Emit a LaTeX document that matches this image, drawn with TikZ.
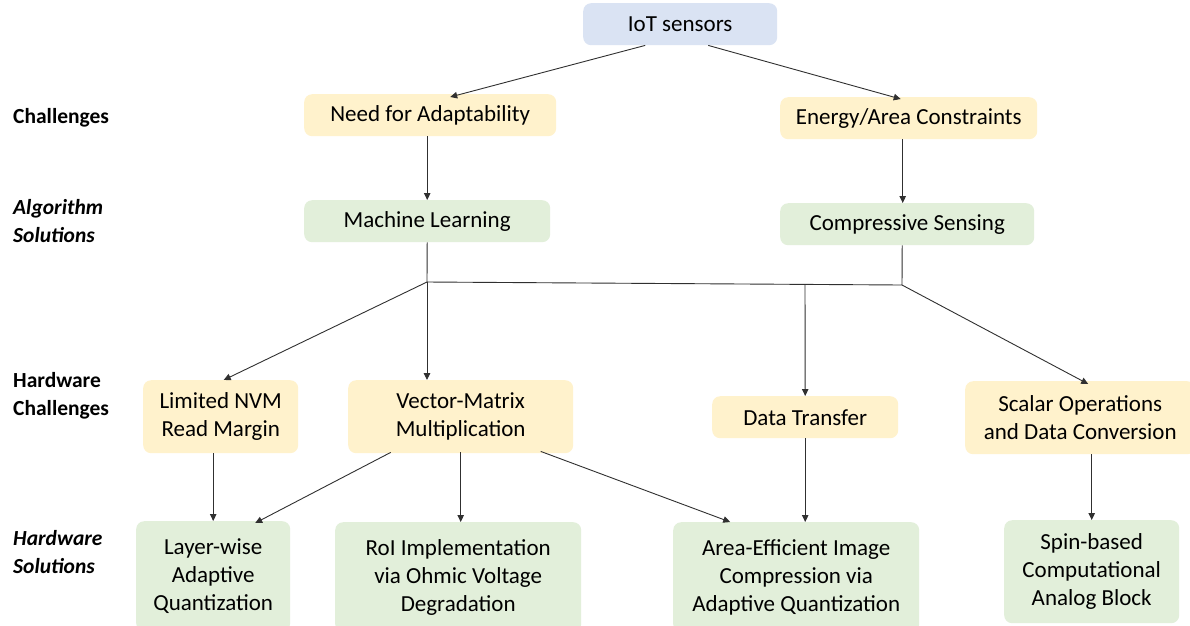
\documentclass[tikz,border=0pt]{standalone}
\usepackage{fontspec}
\setmainfont{Carlito}
\usetikzlibrary{arrows.meta,calc}
\definecolor{iotblue}{HTML}{DAE3F3}
\definecolor{chalyellow}{HTML}{FFF2CC}
\definecolor{solgreen}{HTML}{E2EFDA}
\definecolor{linegray}{HTML}{303030}
\tikzset{
  box/.style={anchor=north west, rounded corners=8pt, inner sep=0pt, align=center,
              font=\fontsize{23}{28}\selectfont},
  bluebox/.style={box, fill=iotblue},
  yellowbox/.style={box, fill=chalyellow},
  greenbox/.style={box, fill=solgreen},
  rowlabel/.style={anchor=west, align=left, inner sep=0pt,
                   font=\fontsize{21.5}{28}\selectfont\bfseries},
  link/.style={draw=linegray, line width=0.9pt},
  flow/.style={link, -{Triangle[width=6.5pt,length=7pt]}},
}
\begin{document}
\begin{tikzpicture}[x=1pt,y=-1pt]
\path[use as bounding box, fill=white] (0,0) rectangle (1190,625);

% row labels
\node[rowlabel] (lchal) at (13,118) {Challenges};
\node[rowlabel] (lalgo) at (13,221) {\itshape Algorithm\\\itshape Solutions};
\node[rowlabel] (lhwc)  at (13,396) {Hardware\\Challenges};
\node[rowlabel] (lhws)  at (13,552) {\itshape Hardware\\\itshape Solutions};

% source
\node[bluebox, minimum width=194pt, minimum height=42pt] (iot) at (583,3) {IoT sensors};

% challenges
\node[yellowbox, minimum width=252pt, minimum height=42pt] (need) at (304,94) {Need for Adaptability};
\node[yellowbox, minimum width=257pt, minimum height=42pt] (energy) at (780,97) {Energy/Area Constraints};

% algorithm solutions
\node[greenbox, minimum width=246pt, minimum height=42pt] (ml) at (304,200) {Machine Learning};
\node[greenbox, minimum width=254pt, minimum height=42pt] (cs) at (780,203) {Compressive Sensing};

% hardware challenges
\node[yellowbox, minimum width=155pt, minimum height=73pt] (nvm) at (143,380) {Limited NVM\\Read Margin};
\node[yellowbox, minimum width=225pt, minimum height=73pt] (vmm) at (348,380) {Vector-Matrix\\Multiplication};
\node[yellowbox, minimum width=186pt, minimum height=42pt] (dt) at (712,396) {Data Transfer};
\node[yellowbox, minimum width=230pt, minimum height=73pt] (scalar) at (965,381) {Scalar Operations\\and Data Conversion};

% hardware solutions
\node[greenbox, minimum width=154pt, minimum height=110pt] (layer) at (136,521) {Layer-wise\\Adaptive\\Quantization};
\node[greenbox, minimum width=246pt, minimum height=110pt] (roi) at (335,522) {RoI Implementation\\via Ohmic Voltage\\Degradation};
\node[greenbox, minimum width=246pt, minimum height=110pt] (area) at (673,522) {Area-Efficient Image\\Compression via\\Adaptive Quantization};
\node[greenbox, minimum width=175pt, minimum height=103pt] (spin) at (1004,520) {Spin-based\\Computational\\Analog Block};

% junction points of the shared bus
\coordinate (jl) at (427,282);
\coordinate (jm) at (805,284);
\coordinate (jr) at (902,285);

% IoT sensors to challenges
\draw[flow] ([xshift=-35pt]iot.south) -- ([xshift=20pt,yshift=-3pt]need.north);
\draw[flow] ([xshift=28pt]iot.south) -- ([xshift=-8pt,yshift=-2pt]energy.north);

% challenges to algorithms
\draw[flow] (ml.north |- need.south) -- (ml.north);
\draw[flow] ([xshift=-6pt]energy.south) -- ([xshift=-6pt]energy.south |- cs.north);

% bus joining both algorithms
\draw[link] (ml.south) -- (jl) -- (jr) -- ([xshift=-5pt]cs.south);

% bus to hardware challenges
\draw[flow] (jl) -- ([xshift=3pt]nvm.north);
\draw[flow] (jl) -- (jl |- vmm.north);
\draw[flow] (jm) -- (dt.north);
\draw[flow] (jr) -- ([xshift=8pt,yshift=-3pt]scalar.north);

% hardware challenges to hardware solutions
\draw[flow] (layer.north |- nvm.south) -- (layer.north);
\draw[flow] ([xshift=-70pt,yshift=1pt]vmm.south) -- ([xshift=42pt,yshift=-2pt]layer.north);
\draw[flow] ([yshift=1pt]vmm.south) -- (vmm.south |- roi.north);
\draw[flow] ([xshift=80pt,yshift=2pt]vmm.south) -- ([xshift=-66pt]area.north);
\draw[flow] (dt.south) -- (dt.south |- area.north);
\draw[flow] (spin.north |- scalar.south) -- (spin.north);
\end{tikzpicture}
\end{document}
